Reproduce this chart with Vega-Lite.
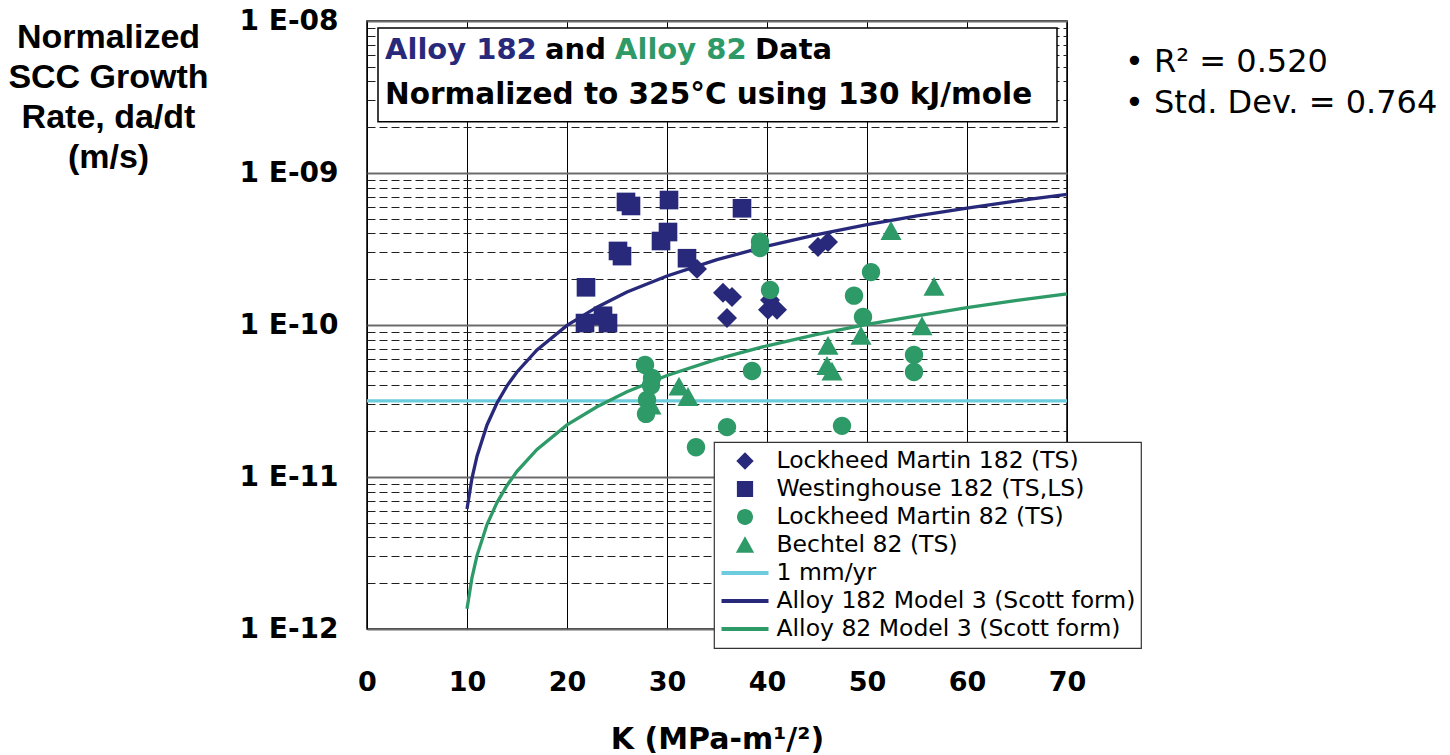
{
  "$schema": "https://vega.github.io/schema/vega-lite/v6.json",
  "autosize": "none",
  "width": 700,
  "height": 608,
  "padding": {"left": 367, "top": 21, "right": 383, "bottom": 126},
  "background": "#ffffff",
  "config": {
    "font": "DejaVu Sans",
    "view": {"stroke": "#000000", "strokeWidth": 1.5},
    "legend": {"strokeWidth": 1.2}
  },
  "datasets": {
    "pts": [
      {"K": 21.9, "rate": 1.77e-10, "series": "Westinghouse 182 (TS,LS)"},
      {"K": 21.8, "rate": 1.03e-10, "series": "Westinghouse 182 (TS,LS)"},
      {"K": 23.6, "rate": 1.15e-10, "series": "Westinghouse 182 (TS,LS)"},
      {"K": 24.1, "rate": 1.03e-10, "series": "Westinghouse 182 (TS,LS)"},
      {"K": 25.1, "rate": 3.07e-10, "series": "Westinghouse 182 (TS,LS)"},
      {"K": 25.5, "rate": 2.84e-10, "series": "Westinghouse 182 (TS,LS)"},
      {"K": 25.9, "rate": 6.45e-10, "series": "Westinghouse 182 (TS,LS)"},
      {"K": 26.4, "rate": 6.07e-10, "series": "Westinghouse 182 (TS,LS)"},
      {"K": 30.2, "rate": 6.64e-10, "series": "Westinghouse 182 (TS,LS)"},
      {"K": 30.1, "rate": 4.09e-10, "series": "Westinghouse 182 (TS,LS)"},
      {"K": 29.4, "rate": 3.57e-10, "series": "Westinghouse 182 (TS,LS)"},
      {"K": 32.0, "rate": 2.75e-10, "series": "Westinghouse 182 (TS,LS)"},
      {"K": 37.5, "rate": 5.86e-10, "series": "Westinghouse 182 (TS,LS)"},
      {"K": 33.0, "rate": 2.34e-10, "series": "Lockheed Martin 182 (TS)"},
      {"K": 35.6, "rate": 1.63e-10, "series": "Lockheed Martin 182 (TS)"},
      {"K": 36.5, "rate": 1.53e-10, "series": "Lockheed Martin 182 (TS)"},
      {"K": 36.0, "rate": 1.11e-10, "series": "Lockheed Martin 182 (TS)"},
      {"K": 45.1, "rate": 3.26e-10, "series": "Lockheed Martin 182 (TS)"},
      {"K": 46.1, "rate": 3.52e-10, "series": "Lockheed Martin 182 (TS)"},
      {"K": 40.1, "rate": 1.26e-10, "series": "Lockheed Martin 182 (TS)"},
      {"K": 41.0, "rate": 1.26e-10, "series": "Lockheed Martin 182 (TS)"},
      {"K": 40.3, "rate": 1.46e-10, "series": "Lockheed Martin 182 (TS)"},
      {"K": 31.2, "rate": 3.93e-11, "series": "Bechtel 82 (TS)"},
      {"K": 32.1, "rate": 3.36e-11, "series": "Bechtel 82 (TS)"},
      {"K": 28.4, "rate": 2.95e-11, "series": "Bechtel 82 (TS)"},
      {"K": 46.1, "rate": 7.28e-11, "series": "Bechtel 82 (TS)"},
      {"K": 46.0, "rate": 5.37e-11, "series": "Bechtel 82 (TS)"},
      {"K": 46.5, "rate": 4.93e-11, "series": "Bechtel 82 (TS)"},
      {"K": 49.4, "rate": 8.47e-11, "series": "Bechtel 82 (TS)"},
      {"K": 52.4, "rate": 4.15e-10, "series": "Bechtel 82 (TS)"},
      {"K": 55.5, "rate": 9.8e-11, "series": "Bechtel 82 (TS)"},
      {"K": 56.7, "rate": 1.78e-10, "series": "Bechtel 82 (TS)"},
      {"K": 39.3, "rate": 3.53e-10, "series": "Lockheed Martin 82 (TS)"},
      {"K": 39.3, "rate": 3.21e-10, "series": "Lockheed Martin 82 (TS)"},
      {"K": 40.3, "rate": 1.70e-10, "series": "Lockheed Martin 82 (TS)"},
      {"K": 50.4, "rate": 2.23e-10, "series": "Lockheed Martin 82 (TS)"},
      {"K": 48.7, "rate": 1.56e-10, "series": "Lockheed Martin 82 (TS)"},
      {"K": 49.6, "rate": 1.13e-10, "series": "Lockheed Martin 82 (TS)"},
      {"K": 27.8, "rate": 5.46e-11, "series": "Lockheed Martin 82 (TS)"},
      {"K": 28.5, "rate": 4.48e-11, "series": "Lockheed Martin 82 (TS)"},
      {"K": 28.4, "rate": 4.0e-11, "series": "Lockheed Martin 82 (TS)"},
      {"K": 28.0, "rate": 3.21e-11, "series": "Lockheed Martin 82 (TS)"},
      {"K": 27.9, "rate": 2.6e-11, "series": "Lockheed Martin 82 (TS)"},
      {"K": 38.5, "rate": 4.98e-11, "series": "Lockheed Martin 82 (TS)"},
      {"K": 36.0, "rate": 2.13e-11, "series": "Lockheed Martin 82 (TS)"},
      {"K": 32.9, "rate": 1.57e-11, "series": "Lockheed Martin 82 (TS)"},
      {"K": 47.5, "rate": 2.17e-11, "series": "Lockheed Martin 82 (TS)"},
      {"K": 54.7, "rate": 6.35e-11, "series": "Lockheed Martin 82 (TS)"},
      {"K": 54.7, "rate": 4.91e-11, "series": "Lockheed Martin 82 (TS)"}
    ],
    "crv": [
      {"K": 0, "rate": 3.17e-11, "series": "1 mm/yr"},
      {"K": 70, "rate": 3.17e-11, "series": "1 mm/yr"},
      {"K": 10, "rate": 6.15e-12, "series": "Alloy 182 Model 3 (Scott form)"},
      {"K": 10.5, "rate": 9.84e-12, "series": "Alloy 182 Model 3 (Scott form)"},
      {"K": 11, "rate": 1.37e-11, "series": "Alloy 182 Model 3 (Scott form)"},
      {"K": 12, "rate": 2.20e-11, "series": "Alloy 182 Model 3 (Scott form)"},
      {"K": 13, "rate": 3.07e-11, "series": "Alloy 182 Model 3 (Scott form)"},
      {"K": 14, "rate": 3.98e-11, "series": "Alloy 182 Model 3 (Scott form)"},
      {"K": 15, "rate": 4.91e-11, "series": "Alloy 182 Model 3 (Scott form)"},
      {"K": 17, "rate": 6.86e-11, "series": "Alloy 182 Model 3 (Scott form)"},
      {"K": 20, "rate": 9.93e-11, "series": "Alloy 182 Model 3 (Scott form)"},
      {"K": 23, "rate": 1.31e-10, "series": "Alloy 182 Model 3 (Scott form)"},
      {"K": 26, "rate": 1.65e-10, "series": "Alloy 182 Model 3 (Scott form)"},
      {"K": 30, "rate": 2.10e-10, "series": "Alloy 182 Model 3 (Scott form)"},
      {"K": 35, "rate": 2.69e-10, "series": "Alloy 182 Model 3 (Scott form)"},
      {"K": 40, "rate": 3.30e-10, "series": "Alloy 182 Model 3 (Scott form)"},
      {"K": 45, "rate": 3.93e-10, "series": "Alloy 182 Model 3 (Scott form)"},
      {"K": 50, "rate": 4.57e-10, "series": "Alloy 182 Model 3 (Scott form)"},
      {"K": 55, "rate": 5.22e-10, "series": "Alloy 182 Model 3 (Scott form)"},
      {"K": 60, "rate": 5.88e-10, "series": "Alloy 182 Model 3 (Scott form)"},
      {"K": 65, "rate": 6.56e-10, "series": "Alloy 182 Model 3 (Scott form)"},
      {"K": 70, "rate": 7.24e-10, "series": "Alloy 182 Model 3 (Scott form)"},
      {"K": 10, "rate": 1.36e-12, "series": "Alloy 82 Model 3 (Scott form)"},
      {"K": 10.5, "rate": 2.18e-12, "series": "Alloy 82 Model 3 (Scott form)"},
      {"K": 11, "rate": 3.04e-12, "series": "Alloy 82 Model 3 (Scott form)"},
      {"K": 12, "rate": 4.87e-12, "series": "Alloy 82 Model 3 (Scott form)"},
      {"K": 13, "rate": 6.79e-12, "series": "Alloy 82 Model 3 (Scott form)"},
      {"K": 14, "rate": 8.80e-12, "series": "Alloy 82 Model 3 (Scott form)"},
      {"K": 15, "rate": 1.09e-11, "series": "Alloy 82 Model 3 (Scott form)"},
      {"K": 17, "rate": 1.52e-11, "series": "Alloy 82 Model 3 (Scott form)"},
      {"K": 20, "rate": 2.20e-11, "series": "Alloy 82 Model 3 (Scott form)"},
      {"K": 23, "rate": 2.90e-11, "series": "Alloy 82 Model 3 (Scott form)"},
      {"K": 26, "rate": 3.64e-11, "series": "Alloy 82 Model 3 (Scott form)"},
      {"K": 30, "rate": 4.65e-11, "series": "Alloy 82 Model 3 (Scott form)"},
      {"K": 35, "rate": 5.96e-11, "series": "Alloy 82 Model 3 (Scott form)"},
      {"K": 40, "rate": 7.30e-11, "series": "Alloy 82 Model 3 (Scott form)"},
      {"K": 45, "rate": 8.69e-11, "series": "Alloy 82 Model 3 (Scott form)"},
      {"K": 50, "rate": 1.01e-10, "series": "Alloy 82 Model 3 (Scott form)"},
      {"K": 55, "rate": 1.15e-10, "series": "Alloy 82 Model 3 (Scott form)"},
      {"K": 60, "rate": 1.30e-10, "series": "Alloy 82 Model 3 (Scott form)"},
      {"K": 65, "rate": 1.45e-10, "series": "Alloy 82 Model 3 (Scott form)"},
      {"K": 70, "rate": 1.60e-10, "series": "Alloy 82 Model 3 (Scott form)"}
    ]
  },
  "layer": [
    {
      "data": {"values": [{"label": "box"}]},
      "mark": {"type": "rect", "fill": "#ffffff", "stroke": "#000000", "strokeWidth": 1.5},
      "encoding": {
        "x": {
          "datum": 1.1,
          "type": "quantitative",
          "scale": {"domain": [0, 70], "nice": false, "zero": false},
          "axis": {
            "values": [0, 10, 20, 30, 40, 50, 60, 70],
            "title": "K (MPa-m¹/²)",
            "grid": true,
            "gridColor": "#000000",
            "gridWidth": 1,
            "gridOpacity": 1,
            "ticks": false,
            "tickSize": 0,
            "domain": false,
            "labelFont": "DejaVu Sans",
            "labelFontWeight": "bold",
            "labelFontSize": 27,
            "labelColor": "#000000",
            "labelPadding": 40,
            "labelFlush": false,
            "labelOverlap": false,
            "titleFont": "DejaVu Sans",
            "titleFontWeight": "bold",
            "titleFontSize": 30,
            "titleColor": "#000000",
            "titleBaseline": "top",
            "titleY": 95
          }
        },
        "x2": {"datum": 69.0},
        "y": {
          "datum": 8.99e-9,
          "type": "quantitative",
          "scale": {"type": "log", "domain": [1e-12, 1e-8], "nice": false},
          "axis": {
            "values": [1e-12, 2e-12, 3e-12, 4e-12, 5e-12, 6e-12, 7e-12, 8e-12, 9e-12, 1e-11, 2e-11, 3e-11, 4e-11, 5e-11, 6e-11, 7e-11, 8e-11, 9e-11, 1e-10, 2e-10, 3e-10, 4e-10, 5e-10, 6e-10, 7e-10, 8e-10, 9e-10, 1e-9, 2e-9, 3e-9, 4e-9, 5e-9, 6e-9, 7e-9, 8e-9, 9e-9, 1e-8],
            "labelExpr": "abs(log(datum.value)/LN10 - round(log(datum.value)/LN10)) < 0.001 ? '1 E-' + (round(-log(datum.value)/LN10) < 10 ? '0' : '') + round(-log(datum.value)/LN10) : ''",
            "labelFont": "DejaVu Sans",
            "labelFontWeight": "bold",
            "labelFontSize": 28,
            "labelColor": "#000000",
            "labelPadding": 29,
            "labelOverlap": false,
            "labelBound": false,
            "labelFlush": false,
            "ticks": false,
            "tickSize": 0,
            "domain": false,
            "grid": true,
            "gridOpacity": 1,
            "gridColor": {"condition": {"test": "abs(log(datum.value)/LN10 - round(log(datum.value)/LN10)) < 0.001", "value": "#6b6b6b"}, "value": "#1f1f1f"},
            "gridDash": {"condition": {"test": "abs(log(datum.value)/LN10 - round(log(datum.value)/LN10)) < 0.001", "value": [1, 0]}, "value": [8, 4]},
            "gridWidth": {"condition": {"test": "abs(log(datum.value)/LN10 - round(log(datum.value)/LN10)) < 0.001", "value": 2}, "value": 1},
            "title": ["Normalized", "SCC Growth", "Rate, da/dt", "(m/s)"],
            "titleAngle": 0,
            "titleAlign": "center",
            "titleBaseline": "alphabetic",
            "titleX": -259,
            "titleY": 26,
            "titleFont": "Liberation Sans",
            "titleFontSize": 34,
            "titleFontWeight": "bold",
            "titleLineHeight": 40,
            "titleColor": "#000000"
          }
        },
        "y2": {"datum": 2.17e-9}
      }
    },
    {
      "data": {"values": [{"label": "Alloy 182"}]},
      "mark": {"type": "text", "align": "left", "baseline": "alphabetic", "font": "DejaVu Sans", "fontSize": 29, "fontWeight": "bold", "color": "#28297A"},
      "encoding": {"x": {"datum": 1.8, "type": "quantitative"}, "y": {"datum": 5.62e-9, "type": "quantitative"}, "text": {"field": "label"}}
    },
    {
      "data": {"values": [{"label": "and"}]},
      "mark": {"type": "text", "align": "left", "baseline": "alphabetic", "font": "DejaVu Sans", "fontSize": 29, "fontWeight": "bold", "color": "#000000"},
      "encoding": {"x": {"datum": 17.8, "type": "quantitative"}, "y": {"datum": 5.62e-9, "type": "quantitative"}, "text": {"field": "label"}}
    },
    {
      "data": {"values": [{"label": "Alloy 82"}]},
      "mark": {"type": "text", "align": "left", "baseline": "alphabetic", "font": "DejaVu Sans", "fontSize": 29, "fontWeight": "bold", "color": "#2E9A68"},
      "encoding": {"x": {"datum": 24.8, "type": "quantitative"}, "y": {"datum": 5.62e-9, "type": "quantitative"}, "text": {"field": "label"}}
    },
    {
      "data": {"values": [{"label": "Data"}]},
      "mark": {"type": "text", "align": "left", "baseline": "alphabetic", "font": "DejaVu Sans", "fontSize": 29, "fontWeight": "bold", "color": "#000000"},
      "encoding": {"x": {"datum": 38.8, "type": "quantitative"}, "y": {"datum": 5.62e-9, "type": "quantitative"}, "text": {"field": "label"}}
    },
    {
      "data": {"values": [{"label": "Normalized to 325°C using 130 kJ/mole"}]},
      "mark": {"type": "text", "align": "left", "baseline": "alphabetic", "font": "DejaVu Sans", "fontSize": 29.5, "fontWeight": "bold", "color": "#000000"},
      "encoding": {"x": {"datum": 1.8, "type": "quantitative"}, "y": {"datum": 2.85e-9, "type": "quantitative"}, "text": {"field": "label"}}
    },
    {
      "data": {"values": [{"label": "• R² = 0.520"}]},
      "mark": {"type": "text", "align": "left", "baseline": "alphabetic", "font": "DejaVu Sans", "fontSize": 32, "color": "#000000"},
      "encoding": {"x": {"datum": 75.8, "type": "quantitative"}, "y": {"datum": 4.64e-9, "type": "quantitative"}, "text": {"field": "label"}}
    },
    {
      "data": {"values": [{"label": "• Std. Dev. = 0.764"}]},
      "mark": {"type": "text", "align": "left", "baseline": "alphabetic", "font": "DejaVu Sans", "fontSize": 32, "color": "#000000"},
      "encoding": {"x": {"datum": 75.8, "type": "quantitative"}, "y": {"datum": 2.48e-9, "type": "quantitative"}, "text": {"field": "label"}}
    },
    {
      "data": {"name": "crv"},
      "mark": {"type": "line", "strokeWidth": 3.3, "interpolate": "linear"},
      "encoding": {
        "x": {"field": "K", "type": "quantitative"},
        "y": {"field": "rate", "type": "quantitative"},
        "stroke": {
          "field": "series",
          "type": "nominal",
          "scale": {
            "domain": ["1 mm/yr", "Alloy 182 Model 3 (Scott form)", "Alloy 82 Model 3 (Scott form)"],
            "range": ["#6CCBDC", "#28297A", "#2E9A68"]
          },
          "legend": null
        }
      }
    },
    {
      "data": {"name": "pts"},
      "mark": {"type": "point", "filled": true, "opacity": 1, "size": 2916, "strokeWidth": 0},
      "encoding": {
        "x": {"field": "K", "type": "quantitative"},
        "y": {"field": "rate", "type": "quantitative"},
        "color": {
          "field": "series",
          "type": "nominal",
          "scale": {
            "domain": ["Lockheed Martin 182 (TS)", "Westinghouse 182 (TS,LS)", "Lockheed Martin 82 (TS)", "Bechtel 82 (TS)", "1 mm/yr", "Alloy 182 Model 3 (Scott form)", "Alloy 82 Model 3 (Scott form)"],
            "range": ["#28297A", "#28297A", "#2E9A68", "#2E9A68", "#6CCBDC", "#28297A", "#2E9A68"]
          },
          "legend": {
            "title": null,
            "orient": "none",
            "legendX": 347,
            "legendY": 421,
            "direction": "vertical",
            "fillColor": "#ffffff",
            "strokeColor": "#333333",
            "padding": 5,
            "symbolSize": 2209,
            "symbolStrokeWidth": 0,
            "symbolOffset": 2.5,
            "labelFont": "DejaVu Sans",
            "labelFontSize": 23.5,
            "labelColor": "#000000",
            "labelOffset": 8,
            "labelLimit": 600,
            "clipHeight": 28,
            "rowPadding": 0
          }
        },
        "shape": {
          "field": "series",
          "type": "nominal",
          "scale": {
            "domain": ["Lockheed Martin 182 (TS)", "Westinghouse 182 (TS,LS)", "Lockheed Martin 82 (TS)", "Bechtel 82 (TS)", "1 mm/yr", "Alloy 182 Model 3 (Scott form)", "Alloy 82 Model 3 (Scott form)"],
            "range": [
              "M0,-0.37L0.37,0L0,0.37L-0.37,0Z",
              "M-0.345,-0.345H0.345V0.345H-0.345Z",
              "M-0.34,0A0.34,0.34 0 1,0 0.34,0A0.34,0.34 0 1,0 -0.34,0Z",
              "M0,-0.37L0.39,0.33L-0.39,0.33Z",
              "M-1,-0.08H1V0.08H-1Z",
              "M-1,-0.08H1V0.08H-1Z",
              "M-1,-0.08H1V0.08H-1Z"
            ]
          },
          "legend": {
            "title": null,
            "orient": "none",
            "legendX": 347,
            "legendY": 421,
            "direction": "vertical",
            "fillColor": "#ffffff",
            "strokeColor": "#333333",
            "padding": 5,
            "symbolSize": 2209,
            "symbolStrokeWidth": 0,
            "symbolOffset": 2.5,
            "labelFont": "DejaVu Sans",
            "labelFontSize": 23.5,
            "labelColor": "#000000",
            "labelOffset": 8,
            "labelLimit": 600,
            "clipHeight": 28,
            "rowPadding": 0
          }
        }
      }
    }
  ]
}
